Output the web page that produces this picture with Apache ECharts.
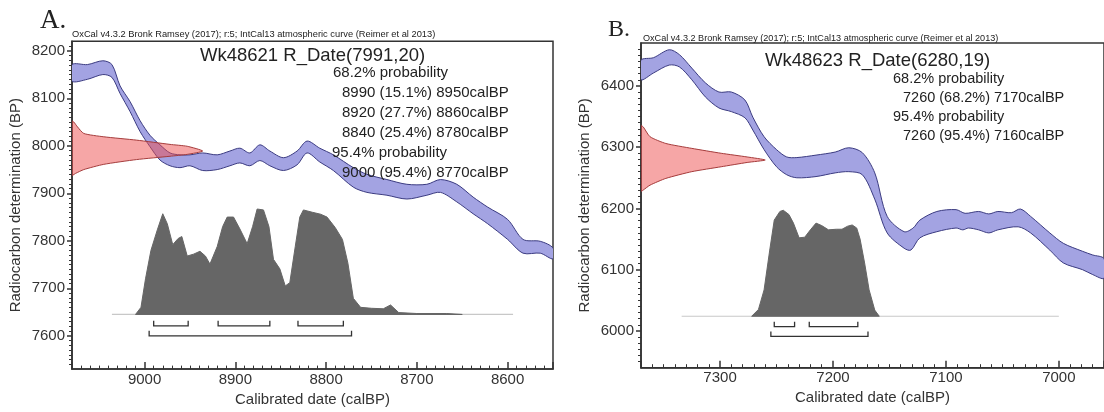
<!DOCTYPE html>
<html>
<head>
<meta charset="utf-8">
<script src="https://cdn.jsdelivr.net/npm/echarts@6/dist/echarts.min.js"></script>
<style>
html,body{margin:0;padding:0;background:#fff}
#main{width:1104px;height:412px}
</style>
</head>
<body>
<div id="main"></div>
<script>
// ---- panel A : Wk48621 ----
const xTicksA = [9000, 8900, 8800, 8700, 8600]
const yTicksA = [7600, 7700, 7800, 7900, 8000, 8100, 8200]
// calibration curve band [calBP, BP]
const curveUpperA = [[9080,8171],[9063,8171],[9046,8179],[9036,8171],[9027,8126],[9016,8093],[9005,8053],[8994,8022],[8983,8002],[8972,7985],[8961,7981],[8950,7981],[8936,7985],[8920,7981],[8906,7989],[8895,7995],[8884,7985],[8873,8002],[8862,7989],[8847,7975],[8832,7989],[8821,8010],[8807,7995],[8792,7981],[8770,7954],[8755,7940],[8733,7929],[8711,7919],[8689,7919],[8674,7929],[8656,7919],[8638,7892],[8622,7871],[8600,7845],[8583,7803],[8564,7799],[8550,7785]]
const curveLowerA = [[9080,8136],[9063,8140],[9046,8150],[9036,8144],[9027,8110],[9016,8072],[9005,8030],[8994,7998],[8983,7970],[8972,7958],[8961,7954],[8950,7958],[8936,7948],[8920,7950],[8906,7958],[8895,7964],[8884,7958],[8873,7969],[8862,7958],[8847,7948],[8832,7960],[8821,7985],[8807,7966],[8792,7948],[8770,7913],[8755,7902],[8733,7896],[8711,7888],[8689,7896],[8674,7902],[8656,7882],[8638,7857],[8622,7836],[8600,7803],[8583,7774],[8564,7774],[8550,7762]]
// R_Date(7991,20) outline [BP, calBP]
const rDateA = [[8052,9080],[8050,9078],[8040,9074],[8026,9067],[8019,9045],[8012,9009],[8003,8972],[7999,8953],[7989,8936],[7982,8953],[7978,8972],[7971,9009],[7961,9045],[7950,9067],[7942,9076],[7938,9080]]
// calibrated distribution [calBP, BP]
const calDistA = [[9010,7645],[9004,7660],[8999,7720],[8993,7780],[8986,7823],[8980,7857],[8975,7836],[8969,7792],[8963,7805],[8959,7809],[8953,7768],[8946,7772],[8939,7778],[8933,7768],[8928,7751],[8920,7788],[8914,7830],[8909,7850],[8902,7850],[8895,7825],[8887,7794],[8881,7830],[8876,7867],[8869,7865],[8863,7830],[8858,7761],[8851,7741],[8845,7705],[8840,7712],[8834,7788],[8829,7850],[8825,7865],[8815,7860],[8806,7856],[8799,7850],[8790,7828],[8782,7803],[8776,7753],[8770,7679],[8762,7660],[8750,7658],[8737,7657],[8729,7665],[8720,7649],[8700,7647],[8667,7647],[8650,7645]]
const baseA = [[9036,7645],[8594,7645]]
const range68A = [[8990,8952],[8919,8862],[8831,8781]]
const range95A = [[8995,8772]]

// ---- panel B : Wk48623 ----
const xTicksB = [7300, 7200, 7100, 7000]
const yTicksB = [6000, 6100, 6200, 6300, 6400]
const curveUpperB = [[7370,6442],[7359,6446],[7345,6459],[7336,6451],[7325,6429],[7313,6405],[7301,6390],[7290,6390],[7278,6377],[7271,6349],[7261,6317],[7250,6296],[7241,6284],[7232,6283],[7215,6287],[7198,6292],[7186,6299],[7174,6291],[7163,6258],[7152,6187],[7137,6162],[7129,6168],[7123,6181],[7108,6195],[7091,6198],[7083,6192],[7071,6195],[7062,6191],[7054,6195],[7042,6193],[7034,6199],[7025,6187],[7008,6160],[6996,6143],[6979,6130],[6970,6124],[6960,6118]]
const curveLowerB = [[7370,6410],[7359,6421],[7345,6434],[7336,6431],[7325,6410],[7313,6382],[7301,6364],[7290,6358],[7278,6348],[7271,6328],[7261,6296],[7250,6268],[7241,6255],[7232,6250],[7215,6252],[7198,6258],[7186,6260],[7174,6255],[7163,6215],[7152,6160],[7137,6135],[7131,6132],[7123,6152],[7108,6162],[7091,6168],[7085,6165],[7080,6168],[7071,6165],[7062,6160],[7054,6165],[7036,6170],[7025,6160],[7008,6132],[6996,6111],[6979,6100],[6970,6092],[6960,6086]]
const rDateB = [[6335,7370],[6333,7368],[6317,7362],[6306,7348],[6298,7325],[6290,7299],[6284,7276],[6279,7260],[6275,7276],[6268,7299],[6260,7325],[6249,7348],[6238,7362],[6230,7368],[6228,7370]]
const calDistB = [[7272,6024],[7266,6035],[7261,6067],[7256,6132],[7252,6181],[7247,6195],[7244,6197],[7239,6190],[7235,6176],[7230,6152],[7225,6153],[7220,6165],[7215,6176],[7210,6172],[7204,6165],[7197,6166],[7192,6166],[7187,6171],[7183,6173],[7179,6168],[7176,6150],[7172,6111],[7168,6067],[7163,6034],[7159,6024]]
const baseB = [[7334,6024],[7000,6024]]
const range68B = [[7252,7234],[7221,7178]]
const range95B = [[7255,7169]]

const FONT = '"Liberation Sans", Arial, sans-serif'
const ink = '#333'
const plain = v => String(v)

function xAxis(g, min, max, ticks) {
  return {
    type: 'value', gridIndex: g, position: 'bottom', inverse: true, min: min, max: max,
    minInterval: 100, maxInterval: 100,
    axisLine: { onZero: false, lineStyle: { color: ink, width: 1.6 } },
    axisTick: { inside: true, length: 7, lineStyle: { color: ink, width: 1.5 } },
    minorTick: { show: true, splitNumber: 10, length: 3.5, lineStyle: { color: ink, width: 1 } },
    axisLabel: { customValues: ticks, formatter: plain, margin: 3, color: ink, fontSize: 15, fontFamily: FONT },
    splitLine: { show: false },
    name: 'Calibrated date (calBP)', nameLocation: 'middle', nameGap: 18,
    nameTextStyle: { color: ink, fontSize: 15, fontFamily: FONT }
  }
}
function yAxis(g, min, max, ticks) {
  return {
    type: 'value', gridIndex: g, position: 'left', min: min, max: max,
    minInterval: 100, maxInterval: 100,
    axisLine: { show: true, onZero: false, lineStyle: { color: ink, width: 1.6 } },
    axisTick: { show: true, inside: false, length: 5, customValues: ticks, lineStyle: { color: ink, width: 1.5 } },
    minorTick: { show: true, splitNumber: 10, length: 3, lineStyle: { color: ink, width: 1 } },
    axisLabel: { customValues: ticks, formatter: plain, margin: 7, color: ink, fontSize: 15, fontFamily: FONT },
    splitLine: { show: false },
    name: 'Radiocarbon determination (BP)', nameLocation: 'middle', nameGap: 49,
    nameTextStyle: { color: ink, fontSize: 15, fontFamily: FONT }
  }
}

function polygon(ax, pts, fill, stroke, z, smooth) {
  return {
    type: 'custom', xAxisIndex: ax, yAxisIndex: ax, z: z, clip: true, silent: true,
    data: [pts[0]],
    renderItem: function (params, api) {
      return {
        type: 'polygon',
        shape: { points: pts.map(p => api.coord(p)), smooth: smooth || 0 },
        style: { fill: fill, stroke: stroke, lineWidth: 1 }
      }
    }
  }
}
function band(ax, upper, lower) {
  return polygon(ax, upper.concat(lower.slice().reverse()), '#a3a3e2', '#3b3b80', 2, 0.3)
}
function rdate(ax, pts) {
  return polygon(ax, pts.map(p => [p[1], p[0]]), 'rgba(238,78,78,0.5)', '#a53c3c', 3, 0.2)
}
function brackets(ax, ranges, level) {
  return {
    type: 'custom', xAxisIndex: ax, yAxisIndex: ax, z: 4, silent: true,
    data: ranges,
    renderItem: function (params, api) {
      const a = api.coord([api.value(0), level])
      const b = api.coord([api.value(1), level])
      return {
        type: 'polyline',
        shape: { points: [[a[0], a[1] - 5], a, b, [b[0], b[1] - 5]] },
        style: { stroke: '#333', lineWidth: 1.3, fill: null }
      }
    }
  }
}
function baseline(ax, pts) {
  return { type: 'line', xAxisIndex: ax, yAxisIndex: ax, data: pts, symbol: 'none', z: 1, silent: true,
    lineStyle: { color: '#c8c8c8', width: 1.2 } }
}

function txt(left, top, text, size, family) {
  return {
    type: 'text', left: left, top: top, z: 10,
    style: { text: text, fill: '#222', font: size + 'px ' + (family || FONT) }
  }
}
const header = 'OxCal v4.3.2 Bronk Ramsey (2017); r:5; IntCal13 atmospheric curve (Reimer et al 2013)'
const SERIF = '"Liberation Serif", serif'

const chart = echarts.init(document.getElementById('main'))
chart.setOption({
  animation: false,
  backgroundColor: '#fff',
  grid: [
    { left: 72, top: 41.3, width: 481, height: 333.5, show: true, borderColor: ink, borderWidth: 1.5 },
    { left: 641, top: 43, right: -11, height: 324.7, show: true, borderColor: ink, borderWidth: 1.5 }
  ],
  xAxis: [xAxis(0, 8550, 9080, xTicksA), xAxis(1, 6960, 7370, xTicksB)],
  yAxis: [yAxis(0, 7530, 8220, yTicksA), yAxis(1, 5940, 6470, yTicksB)],
  series: [
    band(0, curveUpperA, curveLowerA),
    rdate(0, rDateA),
    baseline(0, baseA),
    polygon(0, calDistA, '#666', '#666', 2),
    brackets(0, range68A, 7621),
    brackets(0, range95A, 7600),
    band(1, curveUpperB, curveLowerB),
    rdate(1, rDateB),
    baseline(1, baseB),
    polygon(1, calDistB, '#666', '#666', 2),
    brackets(1, range68B, 6007),
    brackets(1, range95B, 5991)
  ],
  graphic: [
    txt(40, 7, 'A.', 27, SERIF),
    txt(608, 18, 'B.', 24, SERIF),
    txt(72, 30, header, 9.3),
    txt(643, 34, header, 9.1),
    txt(200, 46, 'Wk48621 R_Date(7991,20)', 18.5),
    txt(333, 65, '68.2% probability', 15),
    txt(342, 85, '8990 (15.1%) 8950calBP', 15),
    txt(342, 105, '8920 (27.7%) 8860calBP', 15),
    txt(342, 125, '8840 (25.4%) 8780calBP', 15),
    txt(332, 145, '95.4% probability', 15),
    txt(342, 165, '9000 (95.4%) 8770calBP', 15),
    txt(765, 51, 'Wk48623 R_Date(6280,19)', 18.5),
    txt(893, 71, '68.2% probability', 14.5),
    txt(903, 90, '7260 (68.2%) 7170calBP', 14.5),
    txt(893, 109, '95.4% probability', 14.5),
    txt(903, 128, '7260 (95.4%) 7160calBP', 14.5)
  ]
})
</script>
</body>
</html>
